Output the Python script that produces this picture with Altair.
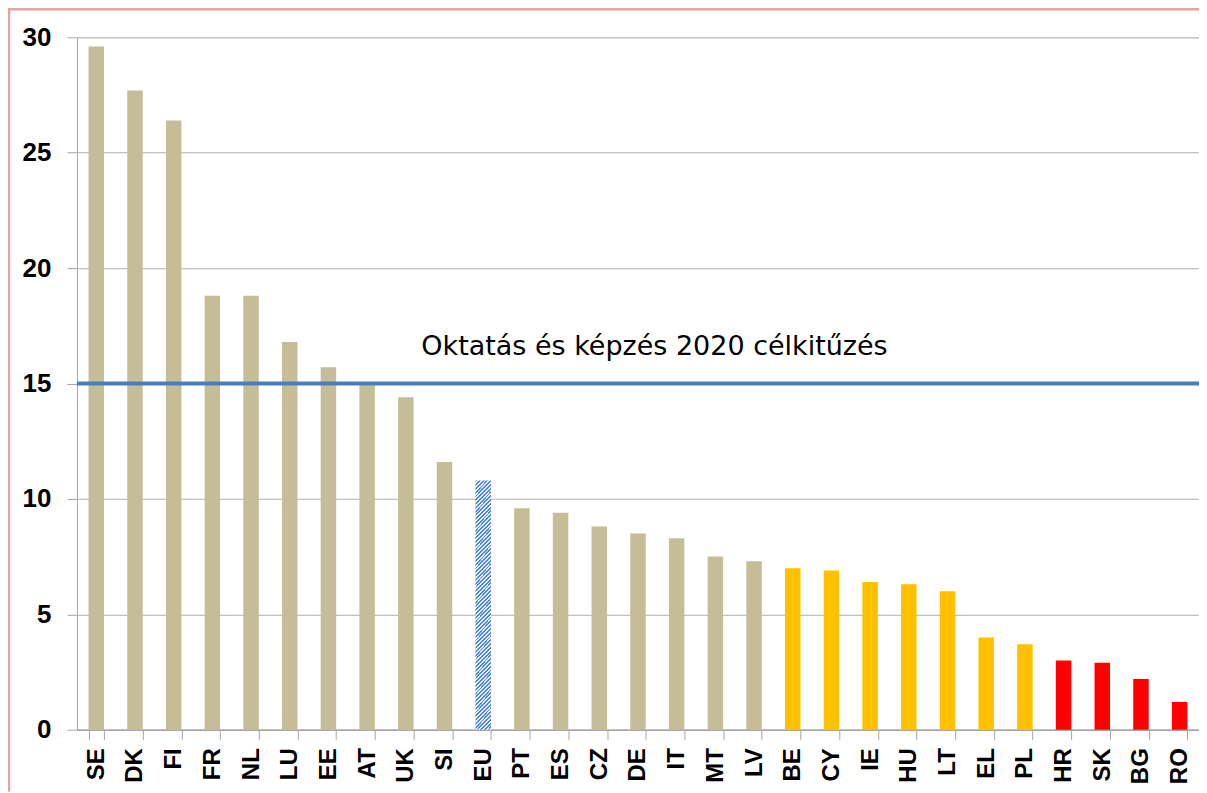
import altair as alt
import pandas as pd

countries = ["SE", "DK", "FI", "FR", "NL", "LU", "EE", "AT", "UK", "SI", "EU", "PT", "ES", "CZ",
             "DE", "IT", "MT", "LV", "BE", "CY", "IE", "HU", "LT", "EL", "PL", "HR", "SK", "BG", "RO"]
values = [29.6, 27.7, 26.4, 18.8, 18.8, 16.8, 15.7, 15.0, 14.4, 11.6, 10.8, 9.6, 9.4, 8.8,
          8.5, 8.3, 7.5, 7.3, 7.0, 6.9, 6.4, 6.3, 6.0, 4.0, 3.7, 3.0, 2.9, 2.2, 1.2]
groups = (["a"] * 10 + ["eu"] + ["a"] * 7 + ["b"] * 7 + ["c"] * 4)
group_domain = ["a", "b", "c"]
group_colors = ["#C4BD97", "#FFC000", "#FF0000"]

target_value = 15
target_label = "Oktatás és képzés 2020 célkitűzés"
label_value = 16.6

W, H = 1123, 693
FONT = "Liberation Sans"

df = pd.DataFrame({"country": countries, "value": values, "group": groups})

# diagonal hatch fill for the EU bar (blue / white stripes)
n_stripes = 70
stops = []
for i in range(n_stripes):
    a = i / n_stripes
    m = (i + 0.5) / n_stripes
    b = (i + 1) / n_stripes
    stops += [{"offset": a, "color": "#4F86D6"}, {"offset": m, "color": "#4F86D6"},
              {"offset": m, "color": "#E4ECF8"}, {"offset": b, "color": "#E4ECF8"}]
hatch = alt.LinearGradient(gradient="linear", stops=stops, x1=0, y1=0, x2=0.068, y2=1.06)

x_enc = alt.X("country:N", sort=countries,
              scale=alt.Scale(domain=countries, paddingInner=0.6, paddingOuter=0.3),
              axis=alt.Axis(title=None, labelAngle=-90, labelFont=FONT, labelFontSize=24,
                            labelFontWeight="bold", labelColor="#000000", labelPadding=8,
                            tickBand="extent", tickSize=10, tickColor="#A6A6A6",
                            domainColor="#A6A6A6", domainWidth=1.5, grid=False,
                            labelAlign="right", labelBaseline="middle"))
y_enc = alt.Y("value:Q", scale=alt.Scale(domain=[0, 30], nice=False),
              axis=alt.Axis(title=None, values=[0, 5, 10, 15, 20, 25, 30], labelFont=FONT,
                            labelFontSize=26, labelFontWeight="bold", labelColor="#000000",
                            labelPadding=16, tickSize=10, tickColor="#A6A6A6",
                            domainColor="#A6A6A6", gridColor="#C0C0C0", gridWidth=1.2))

base = alt.Chart(df)
bars = base.transform_filter(alt.datum.group != "eu").mark_bar().encode(
    x=x_enc, y=y_enc,
    color=alt.Color("group:N", scale=alt.Scale(domain=group_domain, range=group_colors),
                    legend=None),
)
eu_bar = base.transform_filter(alt.datum.group == "eu").mark_bar(color=hatch).encode(
    x=alt.X("country:N", sort=countries), y="value:Q")

target_df = pd.DataFrame({"v": [target_value]})
rule = alt.Chart(target_df).mark_rule(color="#4A7EBB", strokeWidth=4).encode(
    y="v:Q", x=alt.value(0), x2=alt.value(W + 2))

label_df = pd.DataFrame({"t": [target_label], "v": [label_value]})
text = alt.Chart(label_df).mark_text(font="DejaVu Sans", fontSize=27, color="#000000",
                                     align="center", baseline="middle").encode(
    y="v:Q", x=alt.value(578), text="t:N")

border_df = pd.DataFrame({"k": [1]})
top_border = alt.Chart(border_df).mark_rule(color="#E2A4A4", strokeWidth=2.5).encode(
    x=alt.value(-69), x2=alt.value(W), y=alt.value(-28))
left_border = alt.Chart(border_df).mark_rule(color="#E2A4A4", strokeWidth=2.5).encode(
    x=alt.value(-68), y=alt.value(-28), y2=alt.value(H + 62))

chart = alt.layer(bars, eu_bar, rule, text, top_border, left_border).properties(
    width=W, height=H,
    padding={"left": 69, "top": 29, "right": 0, "bottom": 62},
    autosize=alt.AutoSizeParams(type="none"),
).configure_view(stroke=None).configure(background="white")

chart.save("out.html", embed_options={"renderer": "svg", "actions": False})
